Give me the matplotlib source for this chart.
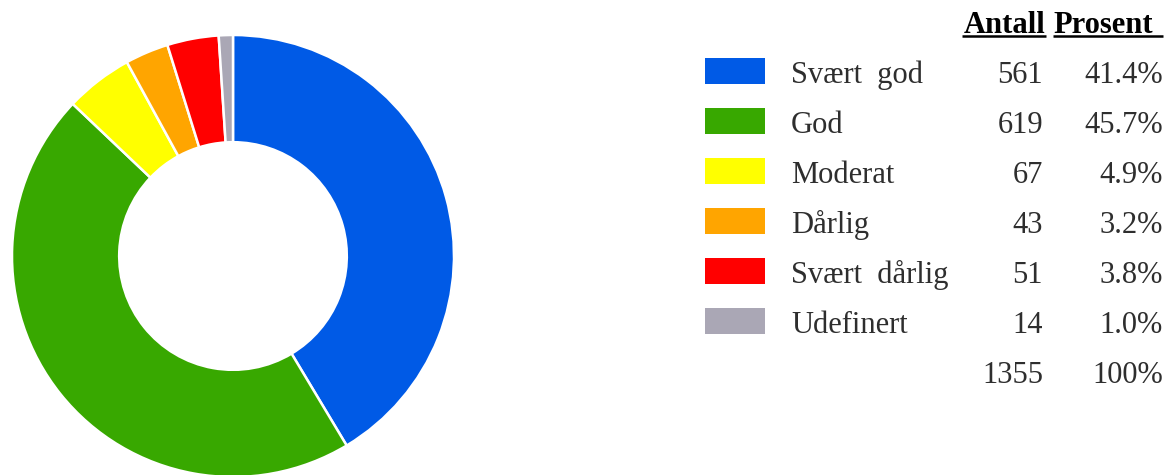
import matplotlib.pyplot as plt
from matplotlib.patches import Rectangle

# data
kategorier = ['Svært  god', 'God', 'Moderat', 'Dårlig', 'Svært  dårlig', 'Udefinert']
antall = [561, 619, 67, 43, 51, 14]
farger = ['#005ae6', '#38a800', '#ffff00', '#ffa500', '#ff0000', '#aaa7b5']

totalt = sum(antall)
prosent = [100.0 * a / totalt for a in antall]

W, H = 1172, 475
fig = plt.figure(figsize=(W / 100, H / 100), dpi=100)

# smultring til venstre
cx, cy, R = 233, 256, 221
ax = fig.add_axes([(cx - R) / W, 1 - (cy + R) / H, 2 * R / W, 2 * R / H])
ax.pie(antall, colors=farger, startangle=90, counterclock=False, radius=1,
       wedgeprops=dict(width=0.485, edgecolor='white', linewidth=1.8))
ax.set_xlim(-1, 1)
ax.set_ylim(-1, 1)
ax.set_aspect('equal')
ax.axis('off')

# tabell/legende til hoyre, i pikselkoordinater
lx = fig.add_axes([0, 0, 1, 1], zorder=-1)
lx.set_xlim(0, W)
lx.set_ylim(H, 0)
lx.axis('off')

font = dict(family='Liberation Serif', fontsize=22, color='#2e2e2e')

# overskrift
lx.text(1046, 33, 'Antall', ha='right', va='baseline', fontweight='bold',
        **{**font, 'color': 'black'})
lx.text(1053, 33, 'Prosent', ha='left', va='baseline', fontweight='bold',
        **{**font, 'color': 'black'})
lx.plot([962, 1046], [36, 36], color='black', lw=1.8, solid_capstyle='butt')
lx.plot([1053, 1163], [36, 36], color='black', lw=1.8, solid_capstyle='butt')

y0, dy = 71, 50
for i, (navn, a, p, f) in enumerate(zip(kategorier, antall, prosent, farger)):
    y = y0 + i * dy
    lx.add_patch(Rectangle((705, y - 13), 60, 26, facecolor=f, edgecolor='none'))
    lx.text(791, y + 12, navn, ha='left', va='baseline', **font)
    lx.text(1043, y + 12, str(a), ha='right', va='baseline', **font)
    lx.text(1163, y + 12, f'{p:.1f}%', ha='right', va='baseline', **font)

y = y0 + len(antall) * dy
lx.text(1043, y + 12, str(totalt), ha='right', va='baseline', **font)
lx.text(1163, y + 12, '100%', ha='right', va='baseline', **font)

plt.savefig('out.png', dpi=100)
